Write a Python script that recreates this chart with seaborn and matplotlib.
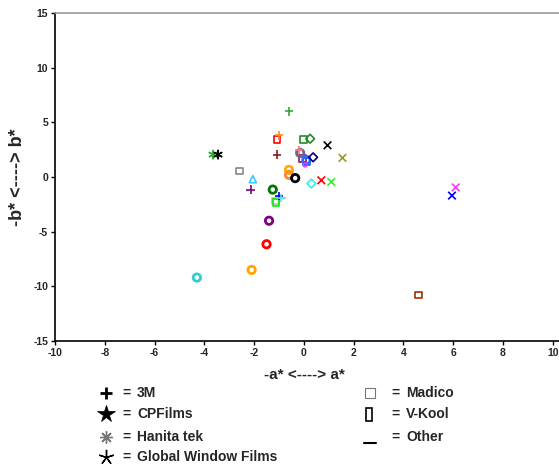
import matplotlib
matplotlib.use("Agg")
import matplotlib.pyplot as plt
import seaborn as sns
import pandas as pd
from matplotlib.lines import Line2D

# ---- data (a*, b*) ----
plus_a = [-0.6, -1.0, -1.07, -2.14, -1.0, -0.9, -0.2]
plus_b = [6.0, 3.8, 2.05, -1.15, -1.75, -1.95, 2.45]
plus_c = ["#33aa33", "#ff8c1a", "#8b1a1a", "#800080", "#0000ff", "#66dddd", "#ff7777"]

x_a = [0.95, 1.55, 0.7, 1.1, 6.1, 5.95]
x_b = [2.9, 1.75, -0.3, -0.45, -0.95, -1.7]
x_c = ["#000000", "#999933", "#ff0000", "#33ee33", "#ff33ff", "#0000ff"]

ast_a = [-3.65, -3.45]
ast_b = [2.05, 2.05]
ast_c = ["#33aa33", "#000000"]

sq_a = [-1.15, -1.08, -2.6, -1.12, -0.03, -0.05, 0.1, 4.6]
sq_b = [-2.2, 3.4, 0.55, -2.35, 3.4, 1.7, 1.4, -10.8]
sq_c = ["#bbbbbb", "#ff0000", "#888888", "#00ee00", "#228b22", "#8b1a4a", "#0066ff", "#993300"]

dia_a = [0.25, 0.37, 0.3]
dia_b = [3.5, 1.8, -0.6]
dia_c = ["#228b22", "#000080", "#33eeee"]

tri_a = [-2.05]
tri_b = [-0.2]
tri_c = ["#33ccff"]

circ_a = [-0.15, 0.1, -0.6, -0.6, -0.35, -1.25, -1.4, -1.5, -2.1, -4.3]
circ_b = [2.2, 1.55, 0.65, 0.2, -0.1, -1.15, -4.0, -6.15, -8.5, -9.2]
circ_c = ["#666699", "#3366ff", "#ffaa00", "#ff8833", "#000000",
          "#007700", "#800080", "#ff0000", "#ffa500", "#33cccc"]

small_a = [0.05]
small_b = [1.1]
small_c = ["#ff33ff"]

legend_left = ["3M", "CPFilms", "Hanita tek", "Global Window Films"]
legend_right = ["Madico", "V-Kool", "Other"]

x_ticks = [-10, -8, -6, -4, -2, 0, 2, 4, 6, 8, 10]
y_ticks = [-15, -10, -5, 0, 5, 10, 15]

sns.set_theme(style="white")
plt.rcParams["font.family"] = ["Liberation Sans", "DejaVu Sans"]

fig = plt.figure(figsize=(5.59, 4.66), dpi=100)
ax = fig.add_axes([55 / 559, 1 - 341 / 466, (559 - 55) / 559, (341 - 13) / 466])


def draw(a, b, cols, marker, s, lw, hollow):
    df = pd.DataFrame({"a": a, "b": b, "id": [str(i) for i in range(len(a))]})
    pal = dict(zip(df["id"], cols))
    n0 = len(ax.collections)
    sns.scatterplot(data=df, x="a", y="b", hue="id", palette=pal, marker=marker,
                    s=s, linewidth=lw, legend=False, ax=ax, zorder=3)
    coll = ax.collections[n0]
    if hollow:
        fc = coll.get_facecolors()
        coll.set_edgecolors(fc)
        coll.set_facecolors("none")
        coll.set_linewidths(lw)


draw(sq_a, sq_b, sq_c, "s", 24, 1.2, True)
draw(circ_a, circ_b, circ_c, "o", 28, 2.0, True)
draw(small_a, small_b, small_c, "o", 8, 1.0, True)
draw(dia_a, dia_b, dia_c, "D", 20, 1.2, True)
draw(tri_a, tri_b, tri_c, "^", 26, 1.2, True)
draw(plus_a, plus_b, plus_c, "+", 36, 1.2, False)
draw(x_a, x_b, x_c, "x", 30, 1.2, False)
draw(ast_a, ast_b, ast_c, (6, 2, 0), 36, 1.1, False)

ax.set_xlim(-10, 10.25)
ax.set_ylim(-15, 15)
ax.set_xticks(x_ticks)
ax.set_yticks(y_ticks)
ax.set_xticklabels([str(t) for t in x_ticks], fontsize=7.5, fontweight="bold")
ax.set_yticklabels([str(t) for t in y_ticks], fontsize=7.5, fontweight="bold")
ax.tick_params(axis="both", direction="out", length=3, width=1, color="black", pad=2)
ax.tick_params(axis="x", bottom=True)
ax.tick_params(axis="y", left=True)
for sp in ["left", "bottom"]:
    ax.spines[sp].set_color("black")
    ax.spines[sp].set_linewidth(1.2)
ax.spines["top"].set_color("#999999")
ax.spines["top"].set_linewidth(1.2)
ax.spines["right"].set_visible(False)
ax.set_xlabel("")
ax.set_ylabel("")
ax.grid(False)

fig.text(304 / 559, 1 - 375 / 466, "-a* <----> a*", ha="center", va="center",
         fontsize=11, fontweight="bold")
fig.text(18 / 559, 1 - 177 / 466, "-b* <----> b*", ha="center", va="center",
         fontsize=13, fontweight="bold", rotation=90)

# ---- text legend below the chart ----
rows_y = [393, 414, 437, 457]
left_markers = [("+", 9, 2.0, "black", "black"),
                ("*", 13, 0.5, "black", "black"),
                ((8, 2, 0), 9, 1.0, "#777777", "#777777"),
                ((5, 2, 0), 11, 1.0, "black", "black")]
for (m, ms, mew, fc, ec), label, yy in zip(left_markers, legend_left, rows_y):
    fy = 1 - yy / 466
    fig.add_artist(Line2D([106 / 559], [fy], marker=m, markersize=ms,
                          markeredgewidth=mew, color=ec, markerfacecolor=fc,
                          linestyle="none", transform=fig.transFigure))
    fig.text(122 / 559, fy, "=", ha="left", va="center", fontsize=10, fontweight="bold")
    fig.text(137 / 559, fy, label, ha="left", va="center", fontsize=10, fontweight="bold")

right_markers = [("s", 7, 0.8, "#777777"),
                 ((0, 0), 0, 0, "black"),
                 ("_", 10, 1.5, "black")]
for i, ((m, ms, mew, ec), label, yy) in enumerate(zip(right_markers, legend_right, rows_y)):
    fy = 1 - yy / 466
    if i == 1:
        fig.add_artist(plt.Rectangle((366 / 559, 1 - 421 / 466), 6 / 559, 13 / 466,
                                     fill=False, edgecolor="black", linewidth=1.2,
                                     transform=fig.transFigure))
    elif i == 2:
        fig.add_artist(Line2D([364 / 559, 376 / 559], [1 - 443 / 466, 1 - 443 / 466],
                              color="black", linewidth=1.5, transform=fig.transFigure))
    else:
        fig.add_artist(Line2D([370 / 559], [fy], marker=m, markersize=ms,
                              markeredgewidth=mew, color=ec, markerfacecolor="none",
                              linestyle="none", transform=fig.transFigure))
    fig.text(391 / 559, fy, "=", ha="left", va="center", fontsize=10, fontweight="bold")
    fig.text(406 / 559, fy, label, ha="left", va="center", fontsize=10, fontweight="bold")

fig.savefig("out.png", dpi=100, facecolor="white")
